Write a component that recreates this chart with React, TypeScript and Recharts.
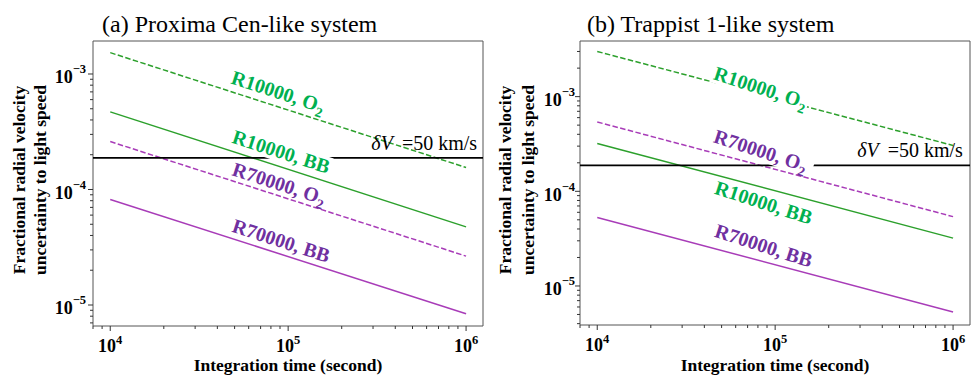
import React from 'react';
import { LineChart, Line, XAxis, YAxis, ReferenceLine, ReferenceDot, ReferenceArea } from 'recharts';

// ---------- data ----------
const times = [1e4, 1e6];

const proximaR10000O2 = [1.53e-3, 1.55e-4];
const proximaR10000BB = [4.7e-4, 4.75e-5];
const proximaR70000O2 = [2.6e-4, 2.65e-5];
const proximaR70000BB = [8.2e-5, 8.4e-6];

const trappistR10000O2 = [3.0e-3, 3.05e-4];
const trappistR70000O2 = [5.4e-4, 5.4e-5];
const trappistR10000BB = [3.2e-4, 3.2e-5];
const trappistR70000BB = [5.3e-5, 5.3e-6];

const deltaV50 = 1.88e-4;

const xMajorTicks = [1e4, 1e5, 1e6];
const xMinorTicks = [8e3, 9e3, 2e4, 3e4, 4e4, 5e4, 6e4, 7e4, 8e4, 9e4, 2e5, 3e5, 4e5, 5e5, 6e5, 7e5, 8e5, 9e5];
const yMajorTicks = [1e-5, 1e-4, 1e-3];
const yMinorLeft = [7e-6, 8e-6, 9e-6, 2e-5, 3e-5, 4e-5, 5e-5, 6e-5, 7e-5, 8e-5, 9e-5, 2e-4, 3e-4, 4e-4, 5e-4, 6e-4, 7e-4, 8e-4, 9e-4];
const yMinorRight = [4e-6, 5e-6, 6e-6, 7e-6, 8e-6, 9e-6, 2e-5, 3e-5, 4e-5, 5e-5, 6e-5, 7e-5, 8e-5, 9e-5, 2e-4, 3e-4, 4e-4, 5e-4, 6e-4, 7e-4, 8e-4, 9e-4, 2e-3, 3e-3];

const titles = ['(a) Proxima Cen-like system', '(b) Trappist 1-like system'];
const xTitle = 'Integration time (second)';
const yTitle1 = 'Fractional radial velocity';
const yTitle2 = 'uncertainty to light speed';
const deltaVText = '=50 km/s';

const GREEN_LINE = '#2ca02c';
const PURPLE_LINE = '#a83cb8';
const GREEN_TXT = '#00b050';
const PURPLE_TXT = '#7030a0';
const SERIF = '"Liberation Serif", "Times New Roman", serif';

const leftLabels = [
  { main: 'R10000, O', sub: '2', x: 8.79e4, y: 6.98e-4, color: GREEN_TXT, w: 100 },
  { main: 'R10000, BB', sub: '', x: 9.14e4, y: 2.11e-4, color: GREEN_TXT, w: 104 },
  { main: 'R70000, O', sub: '2', x: 8.9e4, y: 1.12e-4, color: PURPLE_TXT, w: 100 },
  { main: 'R70000, BB', sub: '', x: 9.14e4, y: 3.58e-5, color: PURPLE_TXT, w: 104 },
];
const rightLabels = [
  { main: 'R10000, O', sub: '2', x: 8.28e4, y: 1.236e-3, color: GREEN_TXT, w: 100 },
  { main: 'R70000, O', sub: '2', x: 8.28e4, y: 2.67e-4, color: PURPLE_TXT, w: 110 },
  { main: 'R10000, BB', sub: '', x: 8.61e4, y: 7.55e-5, color: GREEN_TXT, w: 104 },
  { main: 'R70000, BB', sub: '', x: 8.61e4, y: 2.65e-5, color: PURPLE_TXT, w: 104 },
];

function rows(a: number[], b: number[], c: number[], d: number[]) {
  return times.map((t, i) => ({ t, a: a[i], b: b[i], c: c[i], d: d[i] }));
}

const isMajor = (v: number) => Math.abs(Math.log10(v) - Math.round(Math.log10(v))) < 1e-6;

const XTick = (props: any) => {
  const { x, y, payload } = props;
  const v = payload.value;
  const major = isMajor(v);
  return (
    <g>
      <line x1={x} x2={x} y1={y} y2={y + (major ? 5 : 3)} stroke="#333" strokeWidth={1} />
      {major && (
        <text x={x} y={y + 25.5} textAnchor="middle" fontFamily={SERIF} fontWeight="bold" fontSize={18} fill="#000">
          10<tspan dy={-8} fontSize={12.5}>{Math.round(Math.log10(v))}</tspan>
        </text>
      )}
    </g>
  );
};

const makeYTick = (gap: number) => (props: any) => {
  const { x, y, payload } = props;
  const v = payload.value;
  const major = isMajor(v);
  return (
    <g>
      <line x1={x - (major ? 5 : 3)} x2={x} y1={y} y2={y} stroke="#333" strokeWidth={1} />
      {major && (
        <text x={x - gap} y={y + 9.3} textAnchor="end" fontFamily={SERIF} fontWeight="bold" fontSize={18} fill="#000">
          10<tspan dy={-10} fontSize={12.5}>{'\u2212' + Math.abs(Math.round(Math.log10(v)))}</tspan>
        </text>
      )}
    </g>
  );
};

const RotLabel = ({ cx, cy, lab }: any) => (
  <g transform={`rotate(18 ${cx} ${cy})`}>
    <rect x={cx - lab.w / 2} y={cy - 10} width={lab.w} height={20} fill="#fff" />
    <text x={cx} y={cy + 6.5} textAnchor="middle" fontFamily={SERIF} fontWeight="bold" fontSize={20} fill={lab.color}>
      {lab.main}
      {lab.sub && <tspan dy={5} fontSize={14}>{lab.sub}</tspan>}
    </text>
  </g>
);

const DeltaV = ({ cx, cy }: any) => (
  <text x={cx} y={cy} textAnchor="end" fontFamily={SERIF} fontSize={20} fill="#000">
    <tspan fontStyle="italic">{'\u03b4V'}</tspan>
    <tspan dx={9}>{deltaVText}</tspan>
  </text>
);

type PanelProps = {
  width: number;
  yAxisWidth: number;
  xAxisHeight: number;
  marginRight: number;
  xDomain: [number, number];
  yDomain: [number, number];
  yMinor: number[];
  tickGap: number;
  data: any[];
  labels: any[];
  deltaPos: { x: number; y: number };
  title: string;
  titleX: number;
  yT1: number;
  yT2: number;
};

const Panel = (p: PanelProps) => {
  const height = 382;
  const plotLeft = p.yAxisWidth;
  const plotRight = p.width - p.marginRight;
  const cxPlot = (plotLeft + plotRight) / 2;
  const yTick = makeYTick(p.tickGap);
  return (
    <div style={{ position: 'relative', width: p.width, height }}>
      <LineChart width={p.width} height={height} data={p.data} margin={{ top: 41, right: p.marginRight, bottom: 0, left: 0 }}>
        <XAxis
          dataKey="t"
          type="number"
          scale="log"
          domain={p.xDomain}
          allowDataOverflow
          ticks={[...xMajorTicks, ...xMinorTicks].sort((a, b) => a - b)}
          interval={0}
          tickSize={0}
          tickMargin={0}
          tickLine={false}
          axisLine={false}
          height={p.xAxisHeight}
          tick={<XTick />}
        />
        <YAxis
          type="number"
          scale="log"
          domain={p.yDomain}
          allowDataOverflow
          ticks={[...yMajorTicks, ...p.yMinor].sort((a, b) => a - b)}
          interval={0}
          tickSize={0}
          tickMargin={0}
          tickLine={false}
          axisLine={false}
          width={p.yAxisWidth}
          tick={yTick}
        />
        <ReferenceArea x1={p.xDomain[0]} x2={p.xDomain[1]} y1={p.yDomain[0]} y2={p.yDomain[1]} fill="none" fillOpacity={0} stroke="#555" strokeWidth={1} ifOverflow="visible" />
        <Line dataKey="a" stroke={GREEN_LINE} strokeWidth={1.5} strokeDasharray="5.5 2.4" dot={false} isAnimationActive={false} />
        <Line dataKey="b" stroke={GREEN_LINE} strokeWidth={1.5} dot={false} isAnimationActive={false} />
        <Line dataKey="c" stroke={PURPLE_LINE} strokeWidth={1.5} strokeDasharray="5.5 2.4" dot={false} isAnimationActive={false} />
        <Line dataKey="d" stroke={PURPLE_LINE} strokeWidth={1.5} dot={false} isAnimationActive={false} />
        <ReferenceLine y={deltaV50} stroke="#000" strokeWidth={1.8} />
        <ReferenceDot x={p.deltaPos.x} y={p.deltaPos.y} r={0} shape={(sp: any) => <DeltaV cx={sp.cx} cy={sp.cy} />} />
        {p.labels.map((lab, i) => (
          <ReferenceDot key={i} x={lab.x} y={lab.y} r={0} shape={(sp: any) => <RotLabel cx={sp.cx} cy={sp.cy} lab={lab} />} />
        ))}
      </LineChart>
      <svg width={p.width} height={height} style={{ position: 'absolute', left: 0, top: 0, pointerEvents: 'none' }}>
        <text x={p.titleX} y={32} fontFamily={SERIF} fontSize={24} fill="#000">{p.title}</text>
        <text x={cxPlot} y={371} textAnchor="middle" fontFamily={SERIF} fontWeight="bold" fontSize={17.5} fill="#000">{xTitle}</text>
        <text x={p.yT1} y={180} transform={`rotate(-90 ${p.yT1} 180)`} textAnchor="middle" fontFamily={SERIF} fontWeight="bold" fontSize={17.5} fill="#000">{yTitle1}</text>
        <text x={p.yT2} y={180} transform={`rotate(-90 ${p.yT2} 180)`} textAnchor="middle" fontFamily={SERIF} fontWeight="bold" fontSize={17.5} fill="#000">{yTitle2}</text>
      </svg>
    </div>
  );
};

export default function App() {
  return (
    <div style={{ position: 'absolute', left: 0, top: 0, width: 976, height: 382, background: '#fff', display: 'flex' }}>
      <Panel
        width={490}
        yAxisWidth={93}
        xAxisHeight={56}
        marginRight={7}
        xDomain={[8000, 1.245e6]}
        yDomain={[6.58e-6, 1.93e-3]}
        yMinor={yMinorLeft}
        tickGap={7}
        data={rows(proximaR10000O2, proximaR10000BB, proximaR70000O2, proximaR70000BB)}
        labels={leftLabels}
        deltaPos={{ x: 1.153e6, y: 2.2e-4 }}
        title={titles[0]}
        titleX={102}
        yT1={24.5}
        yT2={45.5}
      />
      <Panel
        width={486}
        yAxisWidth={90}
        xAxisHeight={57}
        marginRight={6}
        xDomain={[8000, 1.245e6]}
        yDomain={[3.87e-6, 3.87e-3]}
        yMinor={yMinorRight}
        tickGap={5}
        data={rows(trappistR10000O2, trappistR10000BB, trappistR70000O2, trappistR70000BB)}
        labels={rightLabels}
        deltaPos={{ x: 1.135e6, y: 2.31e-4 }}
        title={titles[1]}
        titleX={97}
        yT1={21}
        yT2={44}
      />
    </div>
  );
}
